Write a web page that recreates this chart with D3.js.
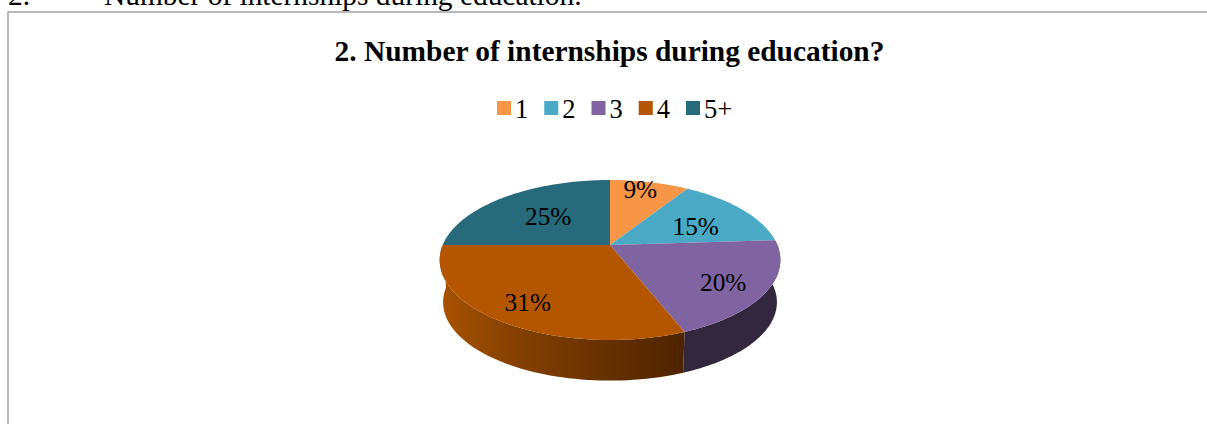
<!DOCTYPE html>
<html><head><meta charset="utf-8">
<script src="https://cdn.jsdelivr.net/npm/d3@7"></script>
<style>html,body{margin:0;padding:0;background:#fff;overflow:hidden}svg{display:block}text{font-family:"Liberation Serif",serif;fill:#000}</style>
</head><body><svg id="c" width="1207" height="424"></svg>
<script>
const categories = ["1","2","3","4","5+"];
const values = [9,15,20,31,25];
const colors = ["#f79646","#4aa9c4","#8064a2","#b45500","#276a7c"];
const pageLine = ["2.","Number of internships during education."];
const title = "2. Number of internships during education?";
const labelNudge = [[5,-15],[4,4],[23,12],[-20,16],[4,2]];

const svg = d3.select("#c");
const cx=610, cy=245, R=167.3, K=77.2, A=0.1875, depth=42.5, shrink=0.98;
const color = d3.scaleOrdinal().domain(categories).range(colors);
const arcs = d3.pie().sort(null).value(d=>d)(values);
const project=(t,f=1,low=false)=>{
  const X=f*Math.sin(t),Y=f*Math.cos(t),p=1/(1+A*Y),s=low?shrink:1;
  return [cx+R*s*X*p, cy+(low?depth:0)-K*s*Y*p];
};
const line=d3.line();
const samples=(a,b)=>d3.range(0,61).map(i=>a+(b-a)*i/60);

// page frame and cropped text line above it
svg.append("rect").attr("x",8).attr("y",12).attr("width",1300).attr("height",500)
  .attr("fill","#fff").attr("stroke","#a3a3a3").attr("stroke-width",1.5);
svg.append("text").attr("x",8).attr("y",5).attr("font-size",29.4).text(pageLine[0]);
svg.append("text").attr("x",104).attr("y",5).attr("font-size",29.4).text(pageLine[1]);

svg.append("text").attr("x",609.5).attr("y",61).attr("text-anchor","middle")
  .attr("font-size",29.4).attr("font-weight","bold").text(title);

// legend
const legendX=d3.scalePoint().domain(categories).range([497,686]);
const lg=svg.append("g").selectAll("g").data(categories).join("g")
  .attr("transform",d=>`translate(${legendX(d)},0)`);
lg.append("rect").attr("y",101).attr("width",14).attr("height",14).attr("fill",d=>color(d));
lg.append("text").attr("x",18).attr("y",118).attr("font-size",26.5).text(d=>d);

// gradient for the front wall of the largest slice
const defs=svg.append("defs");
const g=defs.append("linearGradient").attr("id","wall").attr("gradientUnits","userSpaceOnUse")
  .attr("x1",442).attr("x2",684).attr("y1",0).attr("y2",0);
[[0,"#a85200"],[0.25,"#8a4302"],[0.6,"#6c3300"],[1,"#4e2400"]].forEach(s=>
  g.append("stop").attr("offset",s[0]).attr("stop-color",s[1]));

// side walls
const wall=(a,b)=>{
  const top=samples(a,b).map(t=>project(t));
  const bottom=samples(a,b).reverse().map(t=>project(t,1,true));
  return line(top.concat(bottom))+"Z";
};
const rad=Math.PI/180;
svg.append("path").attr("d",wall(Math.max(arcs[2].startAngle,80*rad),arcs[2].endAngle)).attr("fill","#33273f");
svg.append("path").attr("d",wall(arcs[3].startAngle,Math.min(arcs[3].endAngle,277*rad))).attr("fill","url(#wall)");

// top face
svg.append("g").selectAll("path").data(arcs).join("path")
  .attr("d",d=>line([[cx,cy]].concat(samples(d.startAngle,d.endAngle).map(t=>project(t))))+"Z")
  .attr("fill",(d,i)=>color(categories[i]));

// value labels
svg.append("g").selectAll("text").data(arcs).join("text")
  .attr("text-anchor","middle").attr("font-size",25.3)
  .attr("x",(d,i)=>project((d.startAngle+d.endAngle)/2,0.6)[0]+labelNudge[i][0])
  .attr("y",(d,i)=>project((d.startAngle+d.endAngle)/2,0.6)[1]+labelNudge[i][1]+8)
  .text(d=>d.value+"%");
</script></body></html>
